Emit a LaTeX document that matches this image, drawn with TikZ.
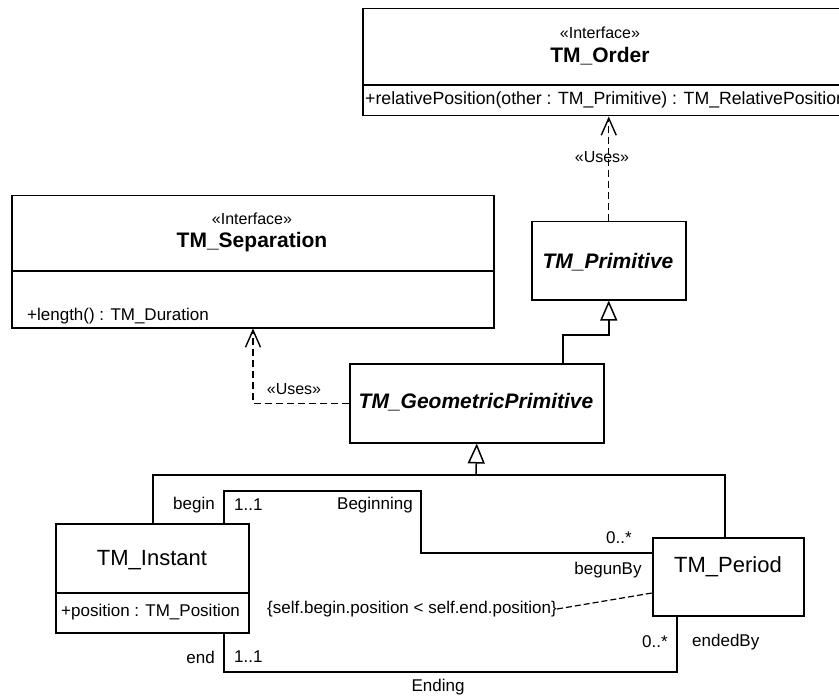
\documentclass[tikz,border=0pt]{standalone}
\usepackage{fontspec}
\setmainfont{Liberation Sans}
\usetikzlibrary{arrows.meta}
\begin{document}
\begin{tikzpicture}[x=1pt,y=-1pt,
  box/.style={draw, line width=1.5pt, inner sep=0pt, fill=white, anchor=north west},
  conn/.style={line width=1.5pt},
  gen/.style={line width=1.5pt, -{Triangle[open,length=20pt,width=17pt,line width=1.5pt,fill=white]}},
  dep/.style={line width=1.4pt, dash pattern=on 7pt off 4pt, -{Straight Barb[length=17pt,width=15pt,line width=1.4pt]}},
  cdash/.style={line width=1.2pt, dash pattern=on 6pt off 3pt},
  lbl/.style={font=\fontsize{17}{20}\selectfont, inner sep=0pt},
  oplbl/.style={font=\fontsize{17.7}{20}\selectfont, inner sep=0pt},
  ster/.style={font=\fontsize{16}{19}\selectfont, inner sep=0pt},
  cname/.style={font=\fontsize{21}{24}\selectfont\bfseries, inner sep=0pt},
  aname/.style={font=\fontsize{21}{24}\selectfont\bfseries\itshape, inner sep=0pt},
  pname/.style={font=\fontsize{22}{25}\selectfont, inner sep=0pt}
]
\useasboundingbox (0,0) rectangle (839,698);

% ---- boxes ----
\node[box, minimum width=483pt, minimum height=107pt] (order) at (362,8) {};
\node[box, minimum width=482pt, minimum height=132pt] (sep) at (11,195) {};
\node[box, minimum width=154pt, minimum height=78pt] (prim) at (531,221) {};
\node[box, minimum width=254pt, minimum height=79pt] (geo) at (349,363) {};
\node[box, minimum width=193pt, minimum height=109pt] (inst) at (55,523) {};
\node[box, minimum width=151pt, minimum height=78pt] (per) at (652,537) {};

% ---- compartment dividers ----
\coordinate (od) at (0,85);
\coordinate (sd) at (0,271);
\coordinate (id) at (0,593);
\draw[conn] (order.west |- od) -- (order.east |- od);
\draw[conn] (sep.west |- sd) -- (sep.east |- sd);
\draw[conn] (inst.west |- id) -- (inst.east |- id);

% ---- texts ----
\node[ster] (ost) at (600,33) {«Interface»};
\node[cname] (oname) at (600,56) {TM\_Order};
\node[oplbl, anchor=west] (oop) at (365,100) {+relativePosition(other : TM\_Primitive) : TM\_RelativePosition};

\node[ster] (sst) at (252,219) {«Interface»};
\node[cname] (sname) at (252,242) {TM\_Separation};
\node[lbl, anchor=west] (sop) at (27,316) {+length() : TM\_Duration};

\node[aname] (pname) at (608,262) {TM\_Primitive};
\node[aname] (gname) at (476,402) {TM\_GeometricPrimitive};

\node[pname] (iname) at (152,560) {TM\_Instant};
\node[lbl, anchor=west] (iatt) at (61,612) {+position : TM\_Position};
\node[pname] (pername) at (728,567) {TM\_Period};

% ---- dependencies ----
\draw[dep] (prim.north) -- (order.south -| prim.north);
\node[ster] (use1) at (602,157) {«Uses»};

\coordinate (ux) at (253,0);
\draw[dep] (geo.west) -| (sep.south -| ux);
\node[ster] (use2) at (294,389) {«Uses»};

% ---- generalizations ----
\coordinate (gx) at (563,0);
\coordinate (gy) at (0,335);
\draw[gen] (geo.north -| gx) |- (prim.south |- gy) -- (prim.south);

\coordinate (jn) at (476,475);
\coordinate (ix) at (153,0);
\coordinate (px) at (725,0);
\draw[conn] (inst.north -| ix) |- (jn);
\draw[conn] (per.north -| px) |- (jn);
\draw[gen] (jn) -- (geo.south);

% ---- associations ----
\coordinate (bx) at (224,0);
\coordinate (b1) at (421,491);
\coordinate (b2) at (0,553);
\draw[conn] (inst.north -| bx) |- (b1) |- (per.west |- b2);
\coordinate (e1) at (677,672);
\draw[conn] (inst.south -| bx) |- (e1) -- (per.south -| e1);

\node[lbl, anchor=east] (lbegin) at (215,505) {begin};
\node[lbl, anchor=west] (lm1) at (234,505) {1..1};
\node[lbl, anchor=west] (lbeg) at (337,505) {Beginning};
\node[lbl] (lm2) at (619,538) {0..*};
\node[lbl] (lbb) at (608,570) {begunBy};

\node[lbl, anchor=east] (lend) at (215,657) {end};
\node[lbl, anchor=west] (lm3) at (234,657) {1..1};
\node[lbl] (lm4) at (655,642) {0..*};
\node[lbl, anchor=west] (leb) at (692,642) {endedBy};
\node[lbl] (lending) at (438,687) {Ending};

% ---- constraint ----
\node[lbl, anchor=west] (cons) at (267,609) {\{self.begin.position < self.end.position\}};
\coordinate (cy) at (0,593);
\draw[cdash] (cons.east) -- (per.west |- cy);
\end{tikzpicture}
\end{document}
